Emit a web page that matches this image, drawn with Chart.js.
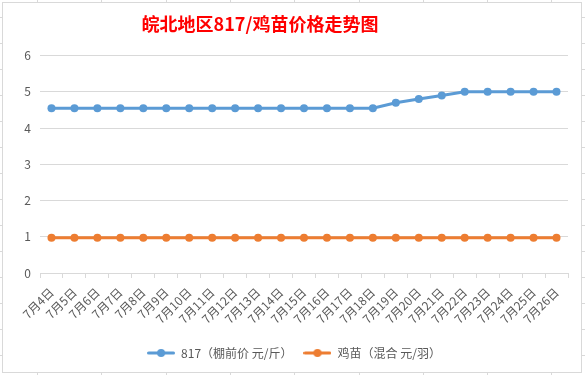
<!DOCTYPE html>
<html>
<head>
<meta charset="utf-8">
<script src="https://cdn.jsdelivr.net/npm/chart.js@4/dist/chart.umd.min.js"></script>
<style>
html,body{margin:0;padding:0;width:585px;height:375px;overflow:hidden;}
body{
  background-color:#fff;
  background-image:
    repeating-linear-gradient(to right, transparent 0, transparent 37px, #d9d9d9 37px, #d9d9d9 38px, transparent 38px, transparent 64.3px),
    repeating-linear-gradient(to bottom, transparent 0, transparent 17px, #d9d9d9 17px, #d9d9d9 18px, transparent 18px, transparent 26px);
}
#frame{position:absolute;left:2px;top:2px;width:578px;height:369px;border:1px solid #d9d9d9;background:#fff;}
#wrap{position:absolute;left:0;top:0;width:585px;height:375px;}
</style>
</head>
<body>
<div id="frame"></div>
<div id="wrap"><canvas id="c" width="585" height="375"></canvas></div>
<script>
const categories = ['7月4日','7月5日','7月6日','7月7日','7月8日','7月9日','7月10日','7月11日','7月12日','7月13日','7月14日','7月15日','7月16日','7月17日','7月18日','7月19日','7月20日','7月21日','7月22日','7月23日','7月24日','7月25日','7月26日'];
const price817 = [4.55,4.55,4.55,4.55,4.55,4.55,4.55,4.55,4.55,4.55,4.55,4.55,4.55,4.55,4.55,4.7,4.8,4.9,5,5,5,5,5];
const chickPrice = [0.97,0.97,0.97,0.97,0.97,0.97,0.97,0.97,0.97,0.97,0.97,0.97,0.97,0.97,0.97,0.97,0.97,0.97,0.97,0.97,0.97,0.97,0.97];
const seriesNames = ['817（棚前价 元/斤）','鸡苗（混合 元/羽）'];
const yTicks = [0,1,2,3,4,5,6];
const titleText = '皖北地区817/鸡苗价格走势图';

const FONT = "'Noto Sans CJK SC', 'Noto Sans', sans-serif";
const BLUE = '#5B9BD5', ORANGE = '#ED7D31';

function legendMarker(color){
  const c = document.createElement('canvas');
  c.width = 28; c.height = 10;
  const g = c.getContext('2d');
  g.strokeStyle = color; g.lineWidth = 3; g.lineCap = 'round';
  g.beginPath(); g.moveTo(1.5,5); g.lineTo(26.5,5); g.stroke();
  g.fillStyle = color; g.beginPath(); g.arc(14,5,4,0,Math.PI*2); g.fill();
  return c;
}
const markers = [legendMarker(BLUE), legendMarker(ORANGE)];

const boxShift = {
  id:'boxShift',
  afterLayout(chart){
    if (chart.titleBlock){ chart.titleBlock.left = 0; chart.titleBlock.right = 520; }
    if (chart.legend){ chart.legend.left += 10; chart.legend.right += 10; }
  }
};

new Chart(document.getElementById('c'), {
  type:'line',
  data:{
    labels: categories,
    datasets:[
      {label: seriesNames[0], data: price817, borderColor: BLUE, backgroundColor: BLUE, borderWidth: 3, pointRadius: 4, pointHoverRadius: 4, pointBackgroundColor: BLUE, pointBorderWidth: 0, tension: 0},
      {label: seriesNames[1], data: chickPrice, borderColor: ORANGE, backgroundColor: ORANGE, borderWidth: 3, pointRadius: 4, pointHoverRadius: 4, pointBackgroundColor: ORANGE, pointBorderWidth: 0, tension: 0}
    ]
  },
  options:{
    responsive:false,
    animation:false,
    layout:{padding:{left:0,right:17,top:0,bottom:6}},
    plugins:{
      title:{display:true, text:titleText, color:'#FF0000', font:{family:FONT, size:18, weight:'bold'}, padding:{top:13,bottom:21}},
      legend:{
        position:'bottom',
        labels:{
          color:'#595959', font:{family:FONT, size:12}, padding:11,
          usePointStyle:true, pointStyleWidth:28,
          generateLabels(chart){
            return chart.data.datasets.map((d,i)=>({
              text:d.label, fillStyle:d.borderColor, strokeStyle:d.borderColor, lineWidth:0,
              pointStyle:markers[i], datasetIndex:i, hidden:false, fontColor:'#595959'
            }));
          }
        }
      },
      tooltip:{enabled:false}
    },
    scales:{
      x:{
        offset:true,
        grid:{display:true, offset:true, drawOnChartArea:false, drawTicks:true, tickLength:5, color:'#d9d9d9'},
        border:{display:true, color:'#d9d9d9'},
        ticks:{color:'#595959', font:{family:FONT, size:12}, minRotation:45, maxRotation:45, autoSkip:false, padding:7},
        afterFit(s){ s.height = 63; }
      },
      y:{
        min:0, max:6,
        afterBuildTicks(s){ s.ticks = yTicks.map(v=>({value:v})); },
        grid:{color:'#d9d9d9', drawTicks:false},
        border:{display:false},
        ticks:{color:'#595959', font:{family:FONT, size:12}, padding:9},
        afterFit(s){ s.width = 40; }
      }
    }
  },
  plugins:[boxShift]
});
</script>
</body>
</html>
